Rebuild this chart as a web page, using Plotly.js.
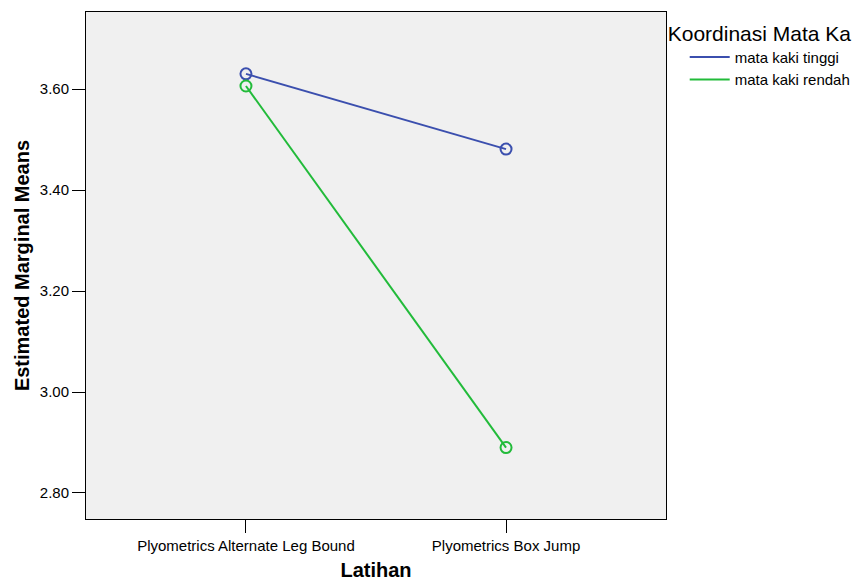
<!DOCTYPE html>
<html>
<head>
<meta charset="utf-8">
<script src="https://cdn.plot.ly/plotly-3.0.1.min.js"></script>
<style>html,body{margin:0;padding:0;background:#fff;overflow:hidden;}#chart{width:853px;height:581px;}</style>
</head>
<body>
<div id="chart"></div>
<script>
const categories = ["Plyometrics Alternate Leg Bound", "Plyometrics Box Jump"];
const seriesNames = ["mata kaki tinggi", "mata kaki rendah"];
const tinggiValues = [3.630, 3.481];
const rendahValues = [3.606, 2.890];
const seriesColors = ["#3b4fae", "#22bb3a"];
const yTickVals = [2.8, 3.0, 3.2, 3.4, 3.6];
const yTickText = ["2.80", "3.00", "3.20", "3.40", "3.60"];
const legendTitle = "Koordinasi Mata Ka";
const xTitle = "Latihan";
const yTitle = "Estimated Marginal Means";

const allValues = [tinggiValues, rendahValues];
const lineTraces = allValues.map((vals, i) => ({
  type: "scatter",
  mode: "lines",
  x: categories,
  y: vals,
  name: seriesNames[i],
  line: {color: seriesColors[i], width: 2},
  cliponaxis: false
}));
const markerTraces = allValues.map((vals, i) => ({
  type: "scatter",
  mode: "markers",
  x: categories,
  y: vals,
  name: seriesNames[i],
  showlegend: false,
  marker: {symbol: "circle-open", size: 11, color: seriesColors[i], line: {width: 2, color: seriesColors[i]}},
  cliponaxis: false
}));

const layout = {
  width: 853, height: 581,
  margin: {l: 86, r: 187, t: 12, b: 62, pad: 0, autoexpand: false},
  paper_bgcolor: "#ffffff",
  plot_bgcolor: "#f0f0f0",
  font: {family: "Liberation Sans, Arial, sans-serif", color: "#000", size: 15},
  showlegend: true,
  legend: {
    x: 0.9995, xanchor: "left", y: 0.997, yanchor: "top",
    title: {text: legendTitle, font: {size: 21, color: "#000"}},
    font: {size: 15, color: "#000"},
    bgcolor: "rgba(0,0,0,0)",
    indentation: 19,
    tracegroupgap: 0,
    itemwidth: 40
  },
  xaxis: {
    type: "category",
    range: [-0.615, 1.615],
    showgrid: false, zeroline: false,
    showline: true, linecolor: "#000", linewidth: 1, mirror: true,
    ticks: "outside", ticklen: 13, tickcolor: "#000", tickwidth: 1,
    tickfont: {size: 15, color: "#000"},
    title: {text: xTitle, font: {size: 20, color: "#000", weight: "bold"}, standoff: 10}
  },
  yaxis: {
    range: [2.7485, 3.7525],
    tickvals: yTickVals, ticktext: yTickText,
    showgrid: false, zeroline: false,
    showline: true, linecolor: "#000", linewidth: 1, mirror: true,
    ticks: "outside", ticklen: 13, tickcolor: "#000", tickwidth: 1,
    tickfont: {size: 15, color: "#000"},
    title: {text: yTitle, font: {size: 20, color: "#000", weight: "bold"}, standoff: 4}
  }
};

Plotly.newPlot("chart", lineTraces.concat(markerTraces), layout, {displayModeBar: false, staticPlot: true});
</script>
</body>
</html>
